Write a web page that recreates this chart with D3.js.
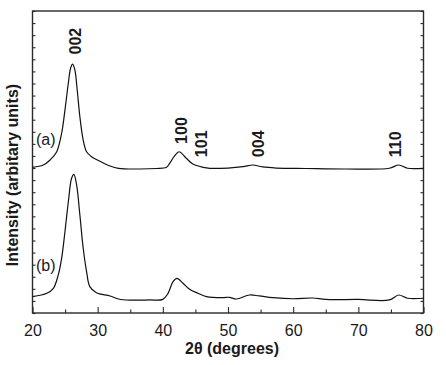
<!DOCTYPE html>
<html>
<head>
<meta charset="utf-8">
<script src="https://cdn.jsdelivr.net/npm/d3@7"></script>
<style>
  body { margin: 0; background: #fff; }
  text { font-family: "Liberation Sans", Arial, sans-serif; fill: #1a1a1a; }
</style>
</head>
<body>
<div id="chart"></div>
<script>
// dati (2theta, intensita' in unita' arbitrarie)
var thetaA = [20, 21.65, 22.7, 23.7, 24.47, 24.98, 25.5, 25.85, 26.15, 26.5, 26.86, 27.27, 27.78, 28.3, 29.06, 30.3, 31.9, 33.2, 36, 39, 40.55, 41.05, 41.8, 42.5, 43.6, 44.6, 46.2, 47.2, 50, 52.3, 53.8, 55.3, 57.4, 62, 68, 74.75, 76.2, 77.55, 80];
var intA = [12.06, 12.25, 12.67, 13.33, 14.88, 16.8, 19.04, 20.28, 20.61, 20.12, 18.46, 16.25, 14.32, 13.35, 12.94, 12.58, 12.17, 11.98, 11.92, 11.96, 12.06, 12.39, 13.0, 13.35, 12.81, 12.33, 12.06, 11.98, 12.0, 12.11, 12.25, 12.09, 12.0, 11.96, 11.92, 11.98, 12.25, 11.98, 11.98];

var thetaB = [20, 22.2, 23.2, 23.95, 24.47, 24.98, 25.5, 26.0, 26.35, 26.77, 27.27, 27.78, 28.3, 28.8, 29.8, 31.9, 33.5, 38, 40.0, 40.8, 41.56, 42.17, 43.1, 44.1, 45.4, 46.7, 49.2, 50.2, 51.3, 53.3, 54.8, 56.9, 60, 63, 65, 70, 74.75, 76.2, 77.55, 80];
var intB = [1.35, 1.63, 2.04, 3.15, 4.53, 6.73, 9.21, 11.15, 11.48, 10.6, 8.11, 5.36, 3.42, 2.18, 1.68, 1.41, 1.12, 1.08, 1.13, 1.63, 2.59, 2.87, 2.46, 1.96, 1.63, 1.35, 1.27, 1.3, 1.16, 1.49, 1.41, 1.27, 1.18, 1.24, 1.12, 1.12, 1.08, 1.49, 1.22, 1.22];

// etichette dei picchi (hkl), posizione in 2theta e livello in intensita'
var peakLabels = ["002", "100", "101", "004", "110"];
var peakTheta = [26.5, 42.9, 45.9, 54.6, 75.7];
var peakLevel = [21.4, 14.0, 12.9, 12.9, 12.9];

var seriesLabels = ["(a)", "(b)"];
var seriesLevel = [13.9, 3.5];

var xTicks = [20, 30, 40, 50, 60, 70, 80];

// margini e dimensioni
var margin = {top: 11, right: 22.5, bottom: 52, left: 32.5},
  width = 446 - margin.left - margin.right,
  height = 365 - margin.top - margin.bottom;

var svg = d3.select("#chart")
.append("svg")
  .attr("width", 446)
  .attr("height", 365)
.append("g")
  .attr("transform", "translate(" + margin.left + "," + margin.top + ")");

var x = d3.scaleLinear().domain([20, 80]).range([0, width]);
var y = d3.scaleLinear().domain([0, 25]).range([height, 0]);

// ticks interni
var axisColor = "#2a2a2a";
svg.append("g")
  .attr("transform", "translate(0," + height + ")")
  .call(d3.axisBottom(x).tickValues(d3.range(25, 80, 10)).tickSize(-3.5).tickFormat(""))
  .call(function(g) { g.select(".domain").remove(); });
svg.append("g")
  .attr("transform", "translate(0," + height + ")")
  .call(d3.axisBottom(x).tickValues(xTicks).tickSize(-6).tickPadding(12))
  .call(function(g) { g.select(".domain").remove(); })
  .selectAll("text")
    .style("font-size", "16px")
    .style("fill", "#1a1a1a");
svg.append("g")
  .call(d3.axisLeft(y).ticks(25).tickSize(-3).tickFormat(""))
  .call(function(g) { g.select(".domain").remove(); });
svg.append("g")
  .attr("transform", "translate(" + width + ",0)")
  .call(d3.axisRight(y).ticks(25).tickSize(-3).tickFormat(""))
  .call(function(g) { g.select(".domain").remove(); });
svg.selectAll(".tick line").style("stroke", axisColor).style("stroke-width", 1.1);

// cornice
svg.append("rect")
  .attr("width", width)
  .attr("height", height)
  .style("fill", "none")
  .style("stroke", axisColor)
  .style("stroke-width", 1.4);

// curve
var line = d3.line()
  .x(function(d) { return x(d[0]); })
  .y(function(d) { return y(d[1]); })
  .curve(d3.curveCatmullRom.alpha(0.5));

[[thetaA, intA], [thetaB, intB]].forEach(function(s) {
  svg.append("path")
    .datum(d3.zip(s[0], s[1]))
    .attr("d", line)
    .style("fill", "none")
    .style("stroke", "#111")
    .style("stroke-width", 1.2);
});

// etichette dei picchi
peakLabels.forEach(function(t, i) {
  svg.append("text")
    .attr("transform", "translate(" + x(peakTheta[i]) + "," + y(peakLevel[i]) + ") rotate(-90)")
    .attr("dy", "0.36em")
    .style("font-size", "16px")
    .style("font-weight", "bold")
    .text(t);
});

seriesLabels.forEach(function(t, i) {
  svg.append("text")
    .attr("x", 3.5)
    .attr("y", y(seriesLevel[i]))
    .style("font-size", "16px")
    .text(t);
});

// titoli assi
svg.append("text")
  .attr("text-anchor", "middle")
  .attr("x", width / 2 + 4)
  .attr("y", height + 41)
  .style("font-size", "16px")
  .style("font-weight", "bold")
  .text("2\u03B8 (degrees)");

svg.append("text")
  .attr("text-anchor", "middle")
  .attr("transform", "translate(-15," + (height / 2 + 13) + ") rotate(-90)")
  .style("font-size", "16px")
  .style("font-weight", "bold")
  .text("Intensity (arbitary units)");
</script>
</body>
</html>
